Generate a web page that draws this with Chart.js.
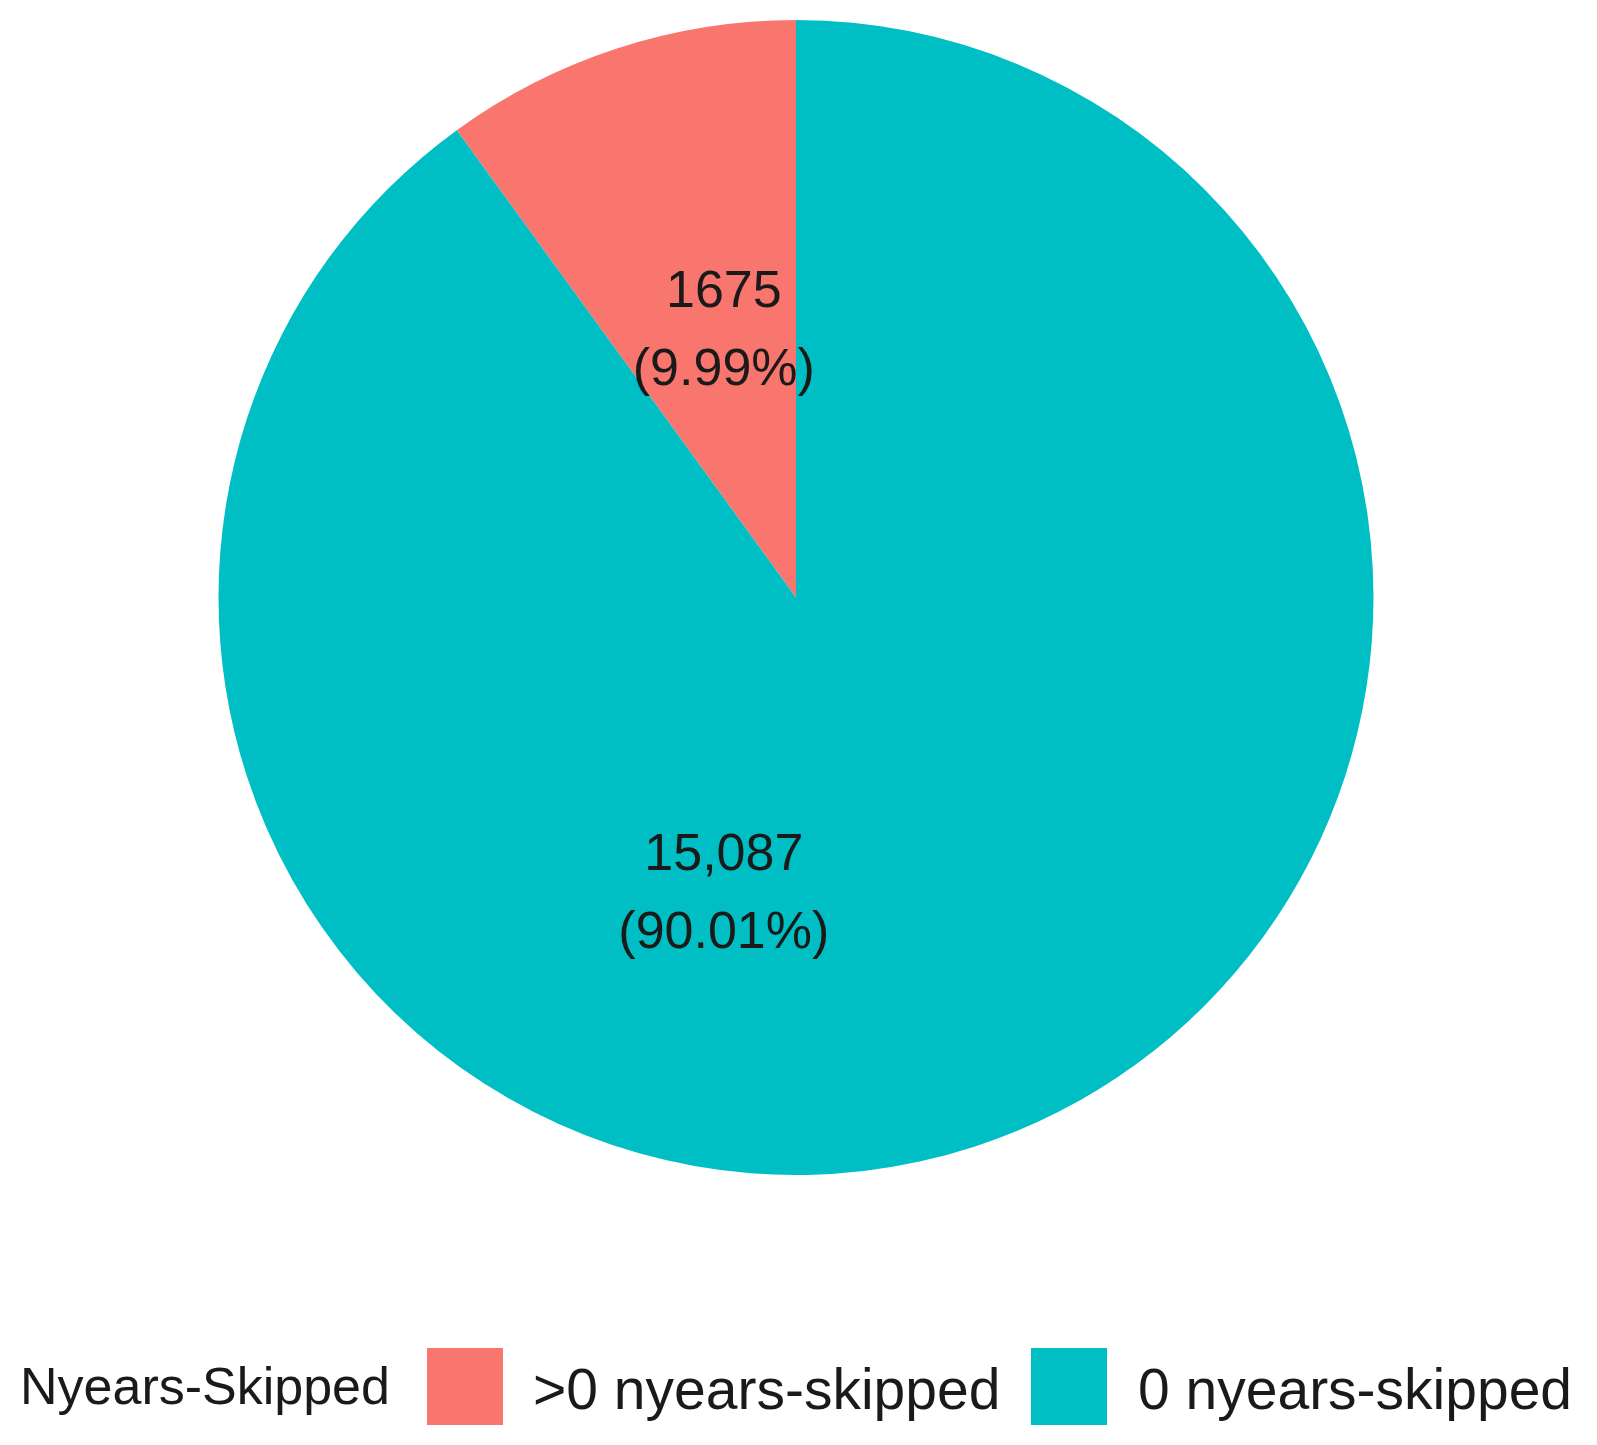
<!DOCTYPE html>
<html lang="en">
<head>
  <meta charset="UTF-8" />
  <title>Nyears Skipped</title>
  <script src="https://cdn.jsdelivr.net/npm/chart.js"></script>
  <style>
    body { margin: 0; background: #fff; font-family: "Liberation Sans", Arial, sans-serif; }
    #wrap { position: relative; width: 1597px; height: 1195px; }
    .lg { position: absolute; color: #1a1a1a; top: 1356px; white-space: nowrap; }
    .box { position: absolute; top: 1348px; width: 76px; height: 77px; }
  </style>
</head>
<body>
<div id="wrap"><canvas id="pie"></canvas></div>
<div class="lg" style="left:20px;font-size:52px">Nyears-Skipped</div>
<div class="box" style="left:427px;background:#F8766D"></div>
<div class="lg" style="left:533px;font-size:57px">&gt;0 nyears-skipped</div>
<div class="box" style="left:1031px;background:#00BFC4"></div>
<div class="lg" style="left:1138px;font-size:57px">0 nyears-skipped</div>

<script>
  const categories = ['>0 nyears-skipped', '0 nyears-skipped'];
  const counts = [1675, 15087];
  const labelLines = [['1675', '(9.99%)'], ['15,087', '(90.01%)']];
  const colors = ['#F8766D', '#00BFC4'];

  const total = counts.reduce((a, b) => a + b, 0);

  // label positions relative to center, in units of radius
  const labelOffsets = [[-0.125, -0.46], [-0.125, 0.515]];

  const textPlugin = {
    id: 'sliceText',
    afterDatasetsDraw(chart) {
      const arc = chart.getDatasetMeta(0).data[0];
      const { x, y, outerRadius } = arc;
      const ctx = chart.ctx;
      ctx.save();
      ctx.fillStyle = '#1a1a1a';
      ctx.font = '52px "Liberation Sans", Arial, sans-serif';
      ctx.textAlign = 'center';
      ctx.textBaseline = 'middle';
      labelLines.forEach((lines, i) => {
        const cx = x + labelOffsets[i][0] * outerRadius;
        const cy = y + labelOffsets[i][1] * outerRadius;
        ctx.fillText(lines[0], cx, cy - 39);
        ctx.fillText(lines[1], cx, cy + 39);
      });
      ctx.restore();
    }
  };

  new Chart(document.getElementById('pie'), {
    type: 'pie',
    data: {
      labels: categories,
      datasets: [{ data: counts, backgroundColor: colors, borderWidth: 0 }]
    },
    options: {
      responsive: true,
      maintainAspectRatio: false,
      animation: false,
      rotation: -counts[0] / total * 360,
      layout: { padding: { top: 20, bottom: 20, left: 0, right: 5 } },
      plugins: { legend: { display: false }, tooltip: { enabled: false } }
    },
    plugins: [textPlugin]
  });
</script>
</body>
</html>
